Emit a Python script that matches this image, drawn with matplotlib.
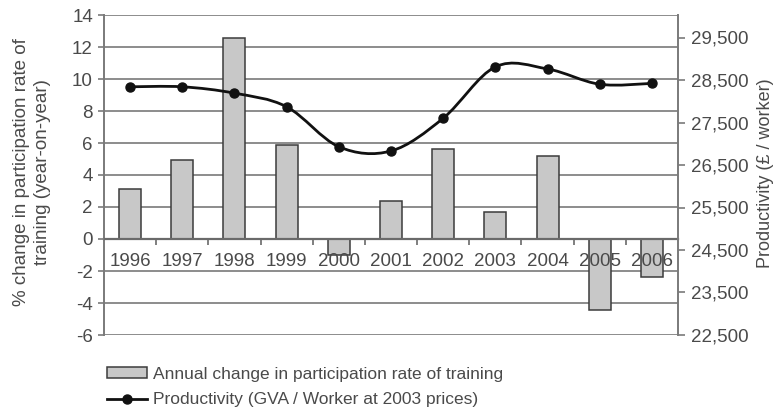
import numpy as np
import matplotlib
matplotlib.use("Agg")
import matplotlib.pyplot as plt
from matplotlib.path import Path
from matplotlib.patches import PathPatch
from matplotlib.lines import Line2D

plt.rcParams['font.family'] = ['Liberation Sans', 'DejaVu Sans']
plt.rcParams['axes.unicode_minus'] = False

years = ['1996', '1997', '1998', '1999', '2000', '2001', '2002', '2003', '2004', '2005', '2006']
training_change = [3.1, 4.95, 12.55, 5.85, -1.0, 2.4, 5.65, 1.7, 5.2, -4.45, -2.4]
productivity = [28340, 28340, 28190, 27870, 26930, 26830, 27600, 28810, 28760, 28400, 28420]
left_ticks = [-6, -4, -2, 0, 2, 4, 6, 8, 10, 12, 14]
right_ticks = [22500, 23500, 24500, 25500, 26500, 27500, 28500, 29500]

txt = '#4a4a4a'
grid = '#8c8c8c'

fig = plt.figure(figsize=(7.76, 4.07), dpi=100)
ax = fig.add_axes([104/776, 1 - 335/407, (678-104)/776, (335-15)/407])
x = np.arange(len(years))

for v in left_ticks:
    ax.axhline(v, color=grid, lw=1.4, zorder=0)
ax.bar(x, training_change, width=0.42, color='#c8c8c8', edgecolor='#3c3c3c', lw=1.1, zorder=1)
ax.set_axisbelow(False)

ax.set_xlim(-0.5, len(years) - 0.5)
ax.set_ylim(-6, 14)
ax.set_yticks(left_ticks)
ax.set_xticks(x[:-1] + 0.5)
ax.set_xticklabels([])
ax.set_xticks(x, minor=True)
ax.set_xticklabels(years, minor=True)
ax.tick_params(axis='x', which='minor', length=0, pad=10, labelsize=13.5, labelcolor=txt)
ax.tick_params(axis='x', which='major', length=4, width=1.2, color='#6a6a6a', direction='out')
ax.tick_params(axis='y', length=4, width=1.2, color='#7a7a7a', labelsize=13.5, labelcolor=txt, pad=4)
ax.spines['bottom'].set_position(('data', 0))
ax.spines['bottom'].set_color('#6a6a6a')
ax.spines['bottom'].set_linewidth(1.6)
ax.spines['top'].set_visible(False)
ax.spines['left'].set_color('#7a7a7a')
ax.spines['left'].set_linewidth(1.4)
ax.spines['right'].set_visible(False)

ax2 = ax.twinx()
ax2.set_ylim(22500, 22500 + (335 - 15) / 42.5 * 1000)
ax2.set_yticks(right_ticks)
ax2.set_yticklabels([f'{v:,}' for v in right_ticks])
ax2.tick_params(axis='y', length=5, width=1.2, color='#7a7a7a', labelsize=13.5, labelcolor=txt, pad=4)
for s in ['top', 'left', 'bottom']:
    ax2.spines[s].set_visible(False)
ax2.spines['right'].set_color('#7a7a7a')
ax2.spines['right'].set_linewidth(1.4)

# smoothed line (Excel-style Bezier through the data points)
p = np.column_stack([x, productivity]).astype(float)
verts = [p[0]]
codes = [Path.MOVETO]
n = len(p)
for i in range(n - 1):
    p0 = p[max(i - 1, 0)]
    p3 = p[min(i + 2, n - 1)]
    c1 = p[i] + (p[i + 1] - p0) / 6
    c2 = p[i + 1] - (p3 - p[i]) / 6
    verts += [c1, c2, p[i + 1]]
    codes += [Path.CURVE4] * 3
ax2.add_patch(PathPatch(Path(verts, codes), facecolor='none', edgecolor='#111111', lw=2.0, zorder=3))
ax2.plot(x, productivity, 'o', color='#111111', ms=6.5, zorder=4)

line_handle = Line2D([], [], color='#111111', lw=2.0, marker='o', ms=6.5)
bar_handle = ax.containers[0]
leg = fig.legend([bar_handle, line_handle],
                 ['Annual change in participation rate of training',
                  'Productivity (GVA / Worker at 2003 prices)'],
                 loc='upper left', bbox_to_anchor=(100/776, 1 - 360/407), frameon=False,
                 fontsize=12.5, handlelength=2.3, handleheight=0.6, labelspacing=0.6,
                 handletextpad=0.35, borderaxespad=0)
for t in leg.get_texts():
    t.set_color(txt)

fig.text(32/776, 1 - 172/407, '% change in participation rate of\ntraining (year-on-year)',
         rotation=90, ha='center', va='center', fontsize=13.5, color=txt, linespacing=1.25)
fig.text(765/776, 1 - 173/407, 'Productivity (£ / worker)',
         rotation=90, ha='center', va='center', fontsize=13, color=txt)

fig.savefig('out.png', dpi=100)
